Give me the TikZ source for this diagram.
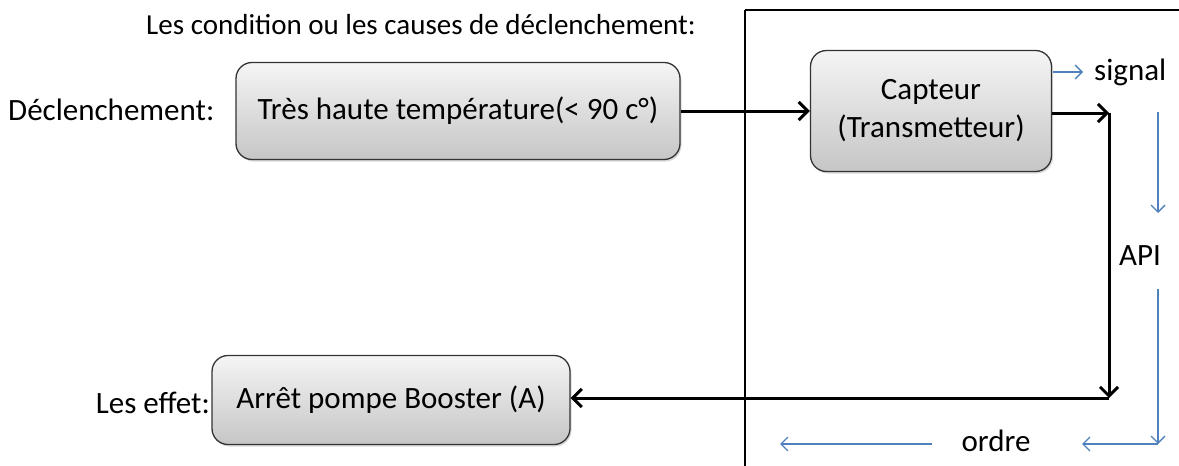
\documentclass[tikz,border=0pt]{standalone}
\usepackage{fontspec}
\setmainfont{Carlito}
\usetikzlibrary{arrows.meta,shadows}
\definecolor{bl}{RGB}{79,129,189}
\tikzset{
  box/.style={draw=black!80, line width=1.3pt, rounded corners=16pt, top color=gray!8, bottom color=gray!45, drop shadow={shadow xshift=1.5pt, shadow yshift=-2pt, opacity=0.3}},
  lbl/.style={font=\fontsize{31}{38}\selectfont, inner sep=0pt},
  thick arrow/.style={line width=3pt, -{Straight Barb[length=9pt,width=18pt,line width=3pt]}},
  blue arrow/.style={draw=bl, line width=1.3pt, -{Straight Barb[length=7pt,width=14pt,line width=1.3pt]}},
}
\begin{document}
\begin{tikzpicture}[x=1pt,y=-1pt]
\useasboundingbox (0,0) rectangle (1179,466);
% frame lines
\draw[line width=1.3pt] (745,10) -- (1179,10);
\draw[line width=1.3pt] (745,10) -- (745,466);
% texts
\node[lbl, font=\fontsize{29}{35}\selectfont] (title) at (421,25) {Les condition ou les causes de déclenchement:};
\node[lbl, anchor=west] (decl) at (8,110) {Déclenchement:};
\node[lbl, anchor=east] (eff) at (210,403) {Les effet:};
% boxes
\node[box, lbl, minimum width=444pt, minimum height=97pt] (b1) at (458,111) {Très haute température(< 90 c°)};
\node[box, lbl, minimum width=241pt, minimum height=121pt, align=center] (b2) at (931,111) {\raisebox{-3pt}{Capteur}\\\raisebox{-3pt}{(Transmetteur)}};
\node[box, lbl, minimum width=358pt, minimum height=89pt] (b3) at (391,400) {Arrêt pompe Booster (A)};
% black connectors
\coordinate (c1) at (1109,113);
\coordinate (c2) at (1109,398);
\draw[thick arrow] (b1.east) -- (b2.west);
\draw[thick arrow] (b2.east |- c1) -- (c1);
\draw[thick arrow] (c1) -- (c2);
\draw[thick arrow] (c2) -- (b3.east |- c2);
% blue annotations
\node[lbl, anchor=west] (sig) at (1094,72) {signal};
\node[lbl] (api) at (1140,256) {API};
\node[lbl] (ord) at (996,441) {ordre};
\coordinate (s0) at (1053,72);
\coordinate (s1) at (1083,72);
\draw[blue arrow] (s0) -- (s1);
\coordinate (v0) at (1158,112);
\coordinate (v1) at (1158,213);
\coordinate (v2) at (1158,289);
\coordinate (v3) at (1158,444);
\coordinate (h0) at (1082,444);
\coordinate (h2) at (932,444);
\coordinate (h1) at (780,444);
\draw[blue arrow] (v0) -- (v1);
\draw[blue arrow] (v2) -- (v3);
\draw[blue arrow] (v3) -- (h0);
\draw[blue arrow] (h2) -- (h1);
\end{tikzpicture}
\end{document}
